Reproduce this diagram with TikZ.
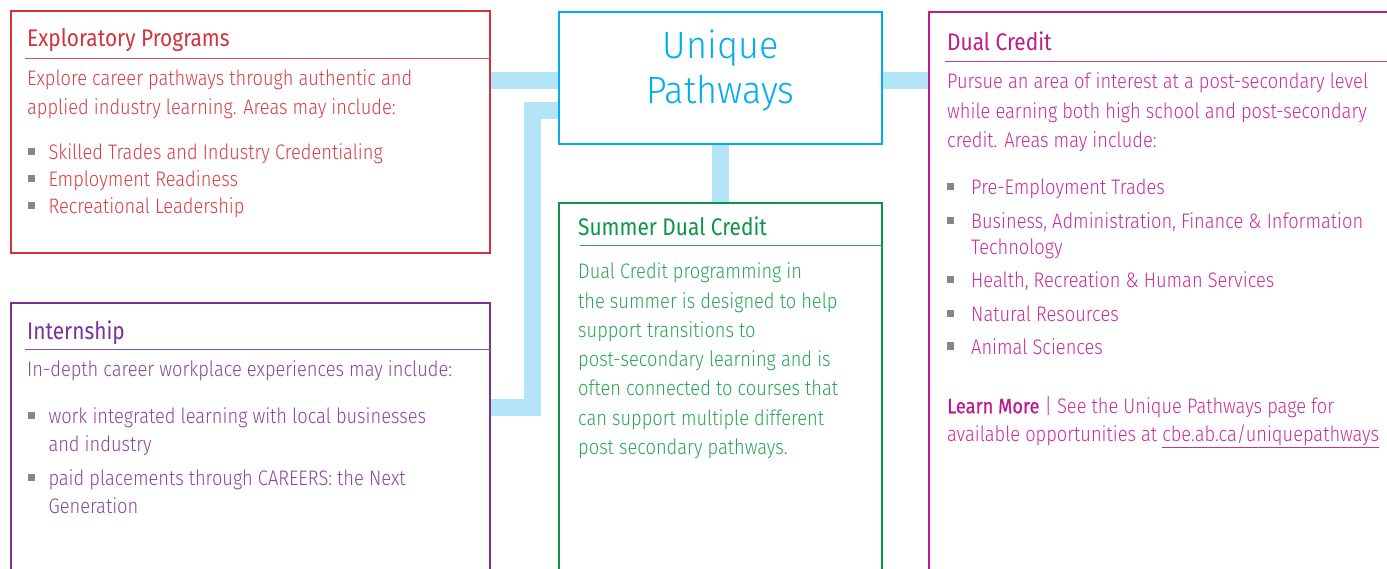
\documentclass[tikz,border=0pt]{standalone}
\usepackage{fontspec}
\setmainfont{Fira Sans Light}[FakeStretch=0.87]
\newfontfamily\titlef{Fira Sans}[FakeStretch=0.87]
\newfontfamily\boldf{Fira Sans}[FakeStretch=0.87, FakeBold=0.6]
\newfontfamily\bigf{Fira Sans Light}[FakeStretch=0.95]
\usetikzlibrary{backgrounds}
\definecolor{exb}{RGB}{210,50,60}
\definecolor{ext}{RGB}{214,62,72}
\definecolor{upc}{RGB}{0,174,239}
\definecolor{dcb}{RGB}{190,26,140}
\definecolor{dct}{RGB}{200,45,155}
\definecolor{inb}{RGB}{122,50,146}
\definecolor{int}{RGB}{135,70,155}
\definecolor{smb}{RGB}{10,150,70}
\definecolor{smt}{RGB}{40,165,90}
\definecolor{conc}{RGB}{180,228,248}
\definecolor{bulc}{RGB}{135,135,135}
\newcommand\bodysz{\fontsize{21}{25}\selectfont}
\newcommand\titlesz{\titlef\fontsize{24}{28}\selectfont}
\newcommand\bul[2]{\fill[bulc] (#1,#2-11.5) rectangle ++(7,7);}
\tikzset{
  box/.style={draw=#1, line width=2pt, fill=white, outer sep=0pt, inner sep=0pt, anchor=north west},
  conn/.style={draw=conc, line width=17pt, line join=miter},
  txt/.style={anchor=base west, inner sep=0pt, font=\bodysz},
  ttl/.style={anchor=base west, inner sep=0pt, font=\titlesz},
  big/.style={anchor=base, inner sep=0pt, text=upc, font=\bigf\fontsize{38}{42}\selectfont},
  uline/.style={line width=1pt}
}
\begin{document}
\begin{tikzpicture}[x=1pt,y=-1pt]
\useasboundingbox (0,0) rectangle (1387,569);
\clip (0,0) rectangle (1387,569);
% boxes
\node[box=exb, minimum width=479, minimum height=242] (exp) at (11,11) {};
\node[box=upc, minimum width=323, minimum height=132] (up) at (559,12) {};
\node[box=dcb, minimum width=520, minimum height=620] (dc) at (929,12) {};
\node[box=smb, minimum width=323, minimum height=420] (sm) at (559,203) {};
\node[box=inb, minimum width=479, minimum height=320] (in) at (11,303) {};
% connectors
\coordinate (k1) at (532,111);
\coordinate (k2) at (532,407);
\begin{scope}[on background layer]
\draw[conn] ([yshift=-2.5pt]up.west) -- ([yshift=-2.5pt]up.west -| exp.east);
\draw[conn] ([yshift=-2.5pt]up.east) -- ([yshift=-2.5pt]up.east -| dc.west);
\draw[conn] (up.south) -- (sm.north);
\draw[conn] (up.west |- k1) -- (k1) -- (k2) -- (k2 -| in.east);
\end{scope}
% Unique Pathways
\node[big] (u1) at (720.5,58.3) {Unique};
\node[big] (u2) at (720.5,103.3) {Pathways};
% Exploratory
\draw[uline, exb!85] (25,59) -- (490,59);
\node[ttl, text=exb] (e0) at (27,46.7) {Exploratory Programs};
\node[txt, text=ext] (e1) at (27,85.7) {Explore career pathways through authentic and};
\node[txt, text=ext] (e2) at (27,114.3) {applied industry learning. Areas may include:};
\bul{27.5}{160}\bul{27.5}{186.7}\bul{27.5}{213.3}
\node[txt, text=ext] (e3) at (48.3,160) {Skilled Trades and Industry Credentialing};
\node[txt, text=ext] (e4) at (48.3,186.7) {Employment Readiness};
\node[txt, text=ext] (e5) at (48.3,213.3) {Recreational Leadership};
% Dual Credit
\draw[uline, dcb!85] (945,61.5) -- (1387,61.5);
\node[ttl, text=dcb] (d0) at (947,50.7) {Dual Credit};
\node[txt, text=dct] (d1) at (947,89) {Pursue an area of interest at a post-secondary level};
\node[txt, text=dct] (d2) at (947,118.3) {while earning both high school and post-secondary};
\node[txt, text=dct] (d3) at (947,147.7) {credit. Areas may include:};
\bul{947}{195}\bul{947}{228.3}\bul{947}{287.3}\bul{947}{321.7}\bul{947}{354}
\node[txt, text=dct] (d4) at (971,195) {Pre-Employment Trades};
\node[txt, text=dct] (d5) at (971,228.3) {Business, Administration, Finance \& Information};
\node[txt, text=dct] (d6) at (971,254.3) {Technology};
\node[txt, text=dct] (d7) at (971,287.3) {Health, Recreation \& Human Services};
\node[txt, text=dct] (d8) at (971,321.7) {Natural Resources};
\node[txt, text=dct] (d9) at (971,354) {Animal Sciences};
\node[txt, text=dct] (d10) at (947,413.3) {{\boldf\color{dcb}Learn More} | See the Unique Pathways page for};
\node[txt, text=dct] (d11) at (947,441.7) {available opportunities at \underline{cbe.ab.ca/uniquepathways}};
% Summer Dual Credit
\draw[uline, smb!85] (580,245.5) -- (882,245.5);
\node[ttl, text=smb] (s0) at (578,236) {Summer Dual Credit};
\node[txt, text=smt] (s1) at (578,279) {Dual Credit programming in};
\node[txt, text=smt] (s2) at (578,308.7) {the summer is designed to help};
\node[txt, text=smt] (s3) at (578,337.7) {support transitions to};
\node[txt, text=smt] (s4) at (578,366.7) {post-secondary learning and is};
\node[txt, text=smt] (s5) at (578,395.7) {often connected to courses that};
\node[txt, text=smt] (s6) at (578,425) {can support multiple different};
\node[txt, text=smt] (s7) at (578,454.3) {post secondary pathways.};
% Internship
\draw[uline, inb!85] (25,349.5) -- (490,349.5);
\node[ttl, text=inb] (i0) at (27,339) {Internship};
\node[txt, text=int] (i1) at (27,376.7) {In-depth career workplace experiences may include:};
\bul{27.5}{423.3}\bul{27.5}{485}
\node[txt, text=int] (i2) at (48.3,423.3) {work integrated learning with local businesses};
\node[txt, text=int] (i3) at (48.3,451.7) {and industry};
\node[txt, text=int] (i4) at (48.3,485) {paid placements through CAREERS: the Next};
\node[txt, text=int] (i5) at (48.3,513.3) {Generation};
\end{tikzpicture}
\end{document}
